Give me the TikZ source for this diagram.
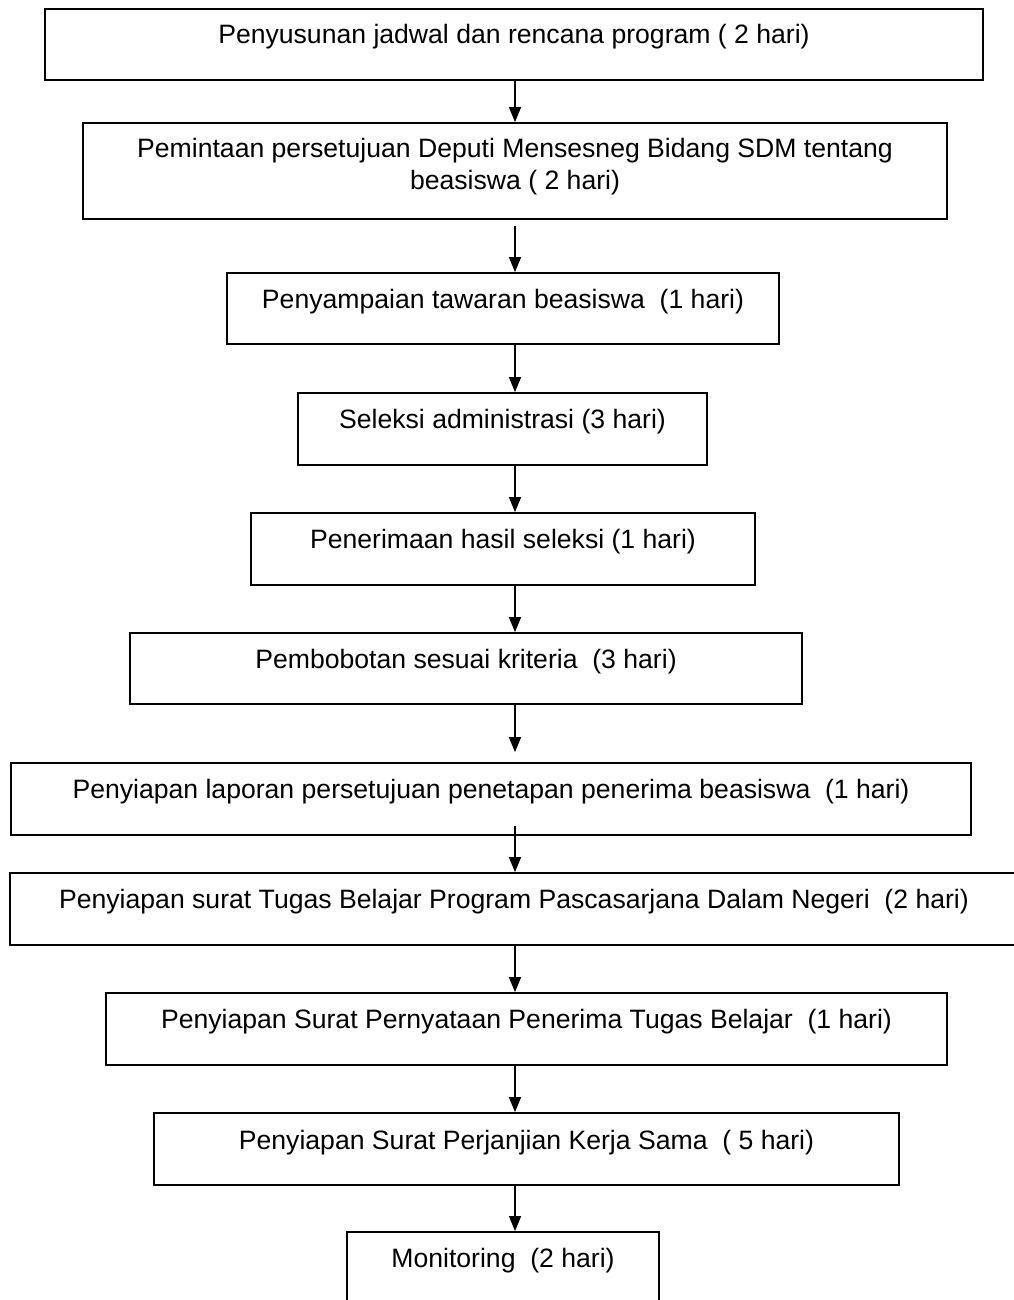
\documentclass[tikz,border=0pt]{standalone}
\usepackage{fontspec}
\setmainfont{Liberation Sans}
\usetikzlibrary{arrows.meta}
\tikzset{
  box/.style={draw=black, line width=1.8pt, rectangle, inner sep=0pt},
  lbl/.style={anchor=base, inner sep=0pt, align=center, font=\fontsize{26.6}{32}\selectfont},
  arr/.style={draw=black, line width=1.3pt, -{Triangle[length=15pt,width=12pt]}}
}
\newcommand{\mkbox}[6]{% name, left, right, top, bottom, text
  \node[box, minimum width={#3-#2}, minimum height={#5-#4}] (#1) at ({(#2+#3)/2},{(#4+#5)/2}) {};
}
\begin{document}
\begin{tikzpicture}[x=1pt,y=-1pt]
\useasboundingbox[fill=white] (0,0) rectangle (1013,1300);
\mkbox{b1}{45}{983}{9}{80}{}
\mkbox{b2}{83}{947}{123}{219}{}
\mkbox{b3}{227}{779}{273}{344}{}
\mkbox{b4}{298}{707}{393}{465}{}
\mkbox{b5}{251}{755}{513}{585}{}
\mkbox{b6}{130}{802}{633}{704}{}
\mkbox{b7}{11}{971}{763}{835}{}
\mkbox{b8}{10}{1018}{873}{945}{}
\mkbox{b9}{106}{947}{993}{1065}{}
\mkbox{b10}{154}{899}{1113}{1185}{}
\mkbox{b11}{347}{659}{1232}{1320}{}
\node[lbl] (t1) at ([yshift=-35.5pt]b1.north) {Penyusunan jadwal dan rencana program ( 2 hari)};
\node[lbl] (t2) at ([yshift=-67.7pt]b2.north) {Pemintaan persetujuan Deputi Mensesneg Bidang SDM tentang\\beasiswa ( 2 hari)};
\node[lbl] (t3) at ([yshift=-36pt]b3.north) {Penyampaian tawaran beasiswa~ (1 hari)};
\node[lbl] (t4) at ([yshift=-36pt]b4.north) {Seleksi administrasi (3 hari)};
\node[lbl] (t5) at ([yshift=-36pt]b5.north) {Penerimaan hasil seleksi (1 hari)};
\node[lbl] (t6) at ([yshift=-36pt]b6.north) {Pembobotan sesuai kriteria~ (3 hari)};
\node[lbl] (t7) at ([yshift=-36pt]b7.north) {Penyiapan laporan persetujuan penetapan penerima beasiswa~ (1 hari)};
\node[lbl] (t8) at ([yshift=-36pt]b8.north) {Penyiapan surat Tugas Belajar Program Pascasarjana Dalam Negeri~ (2 hari)};
\node[lbl] (t9) at ([yshift=-36pt]b9.north) {Penyiapan Surat Pernyataan Penerima Tugas Belajar~ (1 hari)};
\node[lbl] (t10) at ([yshift=-37pt]b10.north) {Penyiapan Surat Perjanjian Kerja Sama~ ( 5 hari)};
\node[lbl] (t11) at ([yshift=-36pt]b11.north) {Monitoring~ (2 hari)};
\coordinate (ax) at (515,0);
\draw[arr] (b1.south -| ax) -- (b2.north -| ax);
\draw[arr] ([yshift=-6pt]b2.south -| ax) -- (b3.north -| ax);
\draw[arr] (b3.south -| ax) -- (b4.north -| ax);
\draw[arr] (b4.south -| ax) -- (b5.north -| ax);
\draw[arr] (b5.south -| ax) -- (b6.north -| ax);
\draw[arr] (b6.south -| ax) -- ([yshift=10pt]b7.north -| ax);
\draw[arr] ([yshift=10pt]b7.south -| ax) -- (b8.north -| ax);
\draw[arr] (b8.south -| ax) -- (b9.north -| ax);
\draw[arr] (b9.south -| ax) -- (b10.north -| ax);
\draw[arr] (b10.south -| ax) -- (b11.north -| ax);
\end{tikzpicture}
\end{document}
